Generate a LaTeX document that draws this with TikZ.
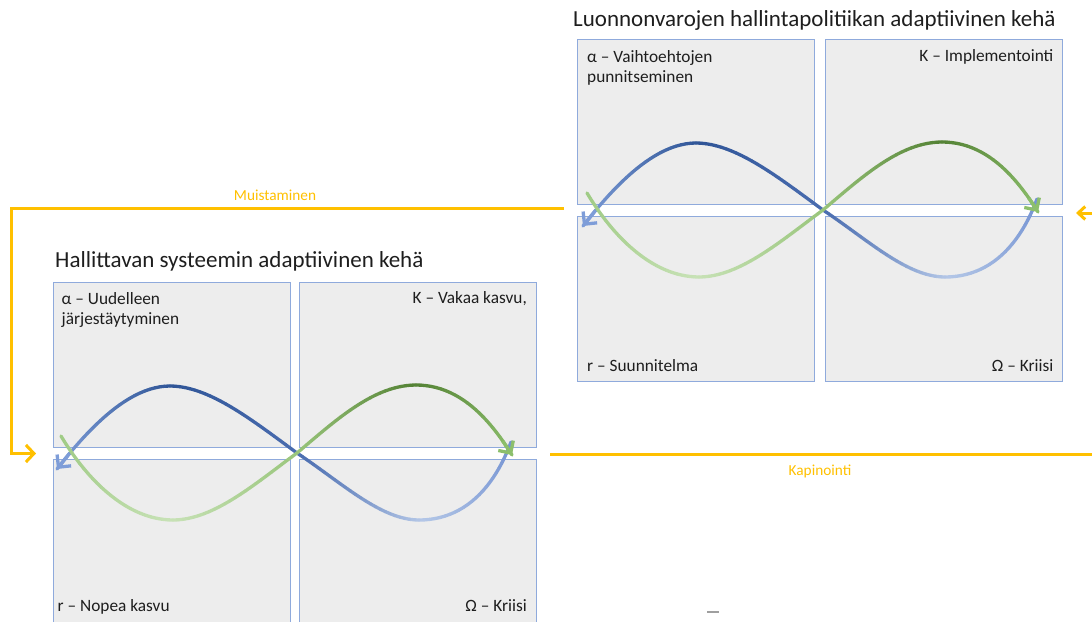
\documentclass[tikz,border=0pt]{standalone}
\usepackage{fontspec}
\setmainfont{Carlito}
\usetikzlibrary{arrows.meta}

\definecolor{panelfill}{HTML}{EDEDED}
\definecolor{panelline}{HTML}{8FAADC}
\definecolor{gold}{HTML}{FFC000}
\definecolor{inktext}{HTML}{1E1E1E}
% blue strand
\definecolor{blueend}{HTML}{7392D2}
\definecolor{bluelight}{HTML}{B4C7E7}
\definecolor{bluecross}{HTML}{4A6DB0}
\definecolor{bluedark}{HTML}{2F5597}
\definecolor{bluetip}{HTML}{7E9DD8}
% green strand
\definecolor{greenstart}{HTML}{9FCB84}
\definecolor{greenlight}{HTML}{C8E2B7}
\definecolor{greencross}{HTML}{9AC67C}
\definecolor{greendark}{HTML}{548235}
\definecolor{greentip}{HTML}{8CBF6C}

\tikzset{
  panel/.style={draw=panelline, fill=panelfill, line width=1pt,
    minimum width=237pt, minimum height=165pt, anchor=north west,
    inner sep=0pt, outer sep=0pt},
  tallpanel/.style={panel, minimum height=175pt},
  curveline/.style={line width=3.3pt, line cap=round},
  curvetip/.style={line width=3.3pt, line cap=butt,
    -{Straight Barb[length=9pt,width=18pt]}},
  loopline/.style={draw=gold, line width=3pt, line join=miter},
  titletext/.style={font=\fontsize{23}{27}\selectfont, text=inktext, inner sep=0pt},
  paneltext/.style={font=\fontsize{17.3}{20}\selectfont, text=inktext,
    inner sep=0pt, align=left},
  looptext/.style={font=\fontsize{15.3}{18}\selectfont, text=gold, inner sep=0pt},
}

% One cubic piece drawn as short segments whose colour runs from #5 to #6
\newcommand{\gradseg}[6]{%
  \path #1 .. controls #2 and #3 .. #4
    foreach \k in {0,...,24} { coordinate[pos={\k/24}] (gp\k) };
  \foreach \k [evaluate=\k as \m using int(\k+1),
               evaluate=\k as \w using int(100-(\k+0.5)*100/24)] in {0,...,23}
    \draw[curveline, color=#5!\w!#6] (gp\k) -- (gp\m);
}

% The figure-eight of one adaptive cycle, drawn around the local origin
\newcommand{\cyclecurves}{%
  % blue strand, from the right end round to the arrow on the left
  \gradseg{(217,-11)}{(200,35)}{(170,67)}{(125,67)}{blueend}{bluelight}
  \gradseg{(125,67)}{(87,67)}{(48,30)}{(3,0)}{bluelight}{bluecross}
  \gradseg{(3,0)}{(-42,-33)}{(-85,-67)}{(-124,-67)}{bluecross}{bluedark}
  \gradseg{(-124,-67)}{(-165,-67)}{(-205,-25)}{(-237,16)}{bluedark}{bluetip}
  \draw[curvetip, color=bluetip] (gp21) -- (gp24);
  % green strand, from the left end round to the arrow on the right
  \gradseg{(-233,-17)}{(-205,30)}{(-165,67)}{(-121,67)}{greenstart}{greenlight}
  \gradseg{(-121,67)}{(-80,67)}{(-38,30)}{(3,0)}{greenlight}{greencross}
  \gradseg{(3,0)}{(42,-33)}{(80,-68)}{(122,-68)}{greencross}{greendark}
  \gradseg{(122,-68)}{(165,-68)}{(195,-35)}{(218,2)}{greendark}{greentip}
  \draw[curvetip, color=greentip] (gp21) -- (gp24);
}

\begin{document}
\begin{tikzpicture}[x=1pt, y=-1pt]
\useasboundingbox (0,0) rectangle (1092,621);

% ---------- policy cycle (upper right) ----------
\node[titletext, anchor=base west] (polTitle) at (573,26)
  {Luonnonvarojen hallintapolitiikan adaptiivinen kehä};
\node[panel] (polA) at (577.5,39.3) {};
\node[panel] (polK) at (825.5,39.3) {};
\node[panel] (polR) at (577.5,216.3) {};
\node[panel] (polO) at (825.5,216.3) {};
% multi-line texts are placed by the baseline of their last line
\node[paneltext, anchor=base west] (polAtext) at (587,82)
  {α – Vaihtoehtojen\\punnitseminen};
\node[paneltext, anchor=base east] (polKtext) at (1053.5,61) {K – Implementointi};
\node[paneltext, anchor=base west] (polRtext) at (587,371.7) {r – Suunnitelma};
\node[paneltext, anchor=base east] (polOtext) at (1053.5,371.7) {Ω – Kriisi};
\begin{scope}[shift={(820,210)}]
  \cyclecurves
\end{scope}

% ---------- governed system cycle (lower left) ----------
\node[titletext, anchor=base west] (sysTitle) at (55,267)
  {Hallittavan systeemin adaptiivinen kehä};
\node[panel] (sysA) at (53,282) {};
\node[panel] (sysK) at (299.5,282) {};
\node[tallpanel] (sysR) at (53,459.3) {};
\node[tallpanel] (sysO) at (299.5,459.3) {};
\node[paneltext, anchor=base west] (sysAtext) at (61.5,324)
  {α – Uudelleen\\järjestäytyminen};
\node[paneltext, anchor=base east] (sysKtext) at (527,303) {K – Vakaa kasvu,};
\node[paneltext, anchor=base west] (sysRtext) at (57.5,611) {r – Nopea kasvu};
\node[paneltext, anchor=base east] (sysOtext) at (527,611) {Ω – Kriisi};
\begin{scope}[shift={(294,453)}]
  \cyclecurves
\end{scope}

% ---------- links between the cycles ----------
\coordinate (memFrom) at (564,208);
\coordinate (memBendA) at (11.5,208);
\coordinate (memBendB) at (11.5,453.5);
\coordinate (memTo) at (36,453.5);
\draw[loopline, -{Straight Barb[length=8pt,width=17pt]}]
  (memFrom) -- (memBendA) -- (memBendB) -- (memTo);
\node[looptext, anchor=base] (memLabel) at (275,200) {Muistaminen};

\coordinate (revFrom) at (550,454);
\coordinate (revTo) at (1093,454);
\draw[loopline] (revFrom) -- (revTo);
\node[looptext, anchor=base] (revLabel) at (820,475) {Kapinointi};

\coordinate (inFrom) at (1093,213);
\coordinate (inTo) at (1076,213);
\draw[loopline, -{Straight Barb[length=7pt,width=13pt]}] (inFrom) -- (inTo);

% small stray dash near the bottom edge
\coordinate (dashL) at (707,612);
\coordinate (dashR) at (719,612);
\draw[gray!75, line width=1.3pt] (dashL) -- (dashR);
\end{tikzpicture}
\end{document}
